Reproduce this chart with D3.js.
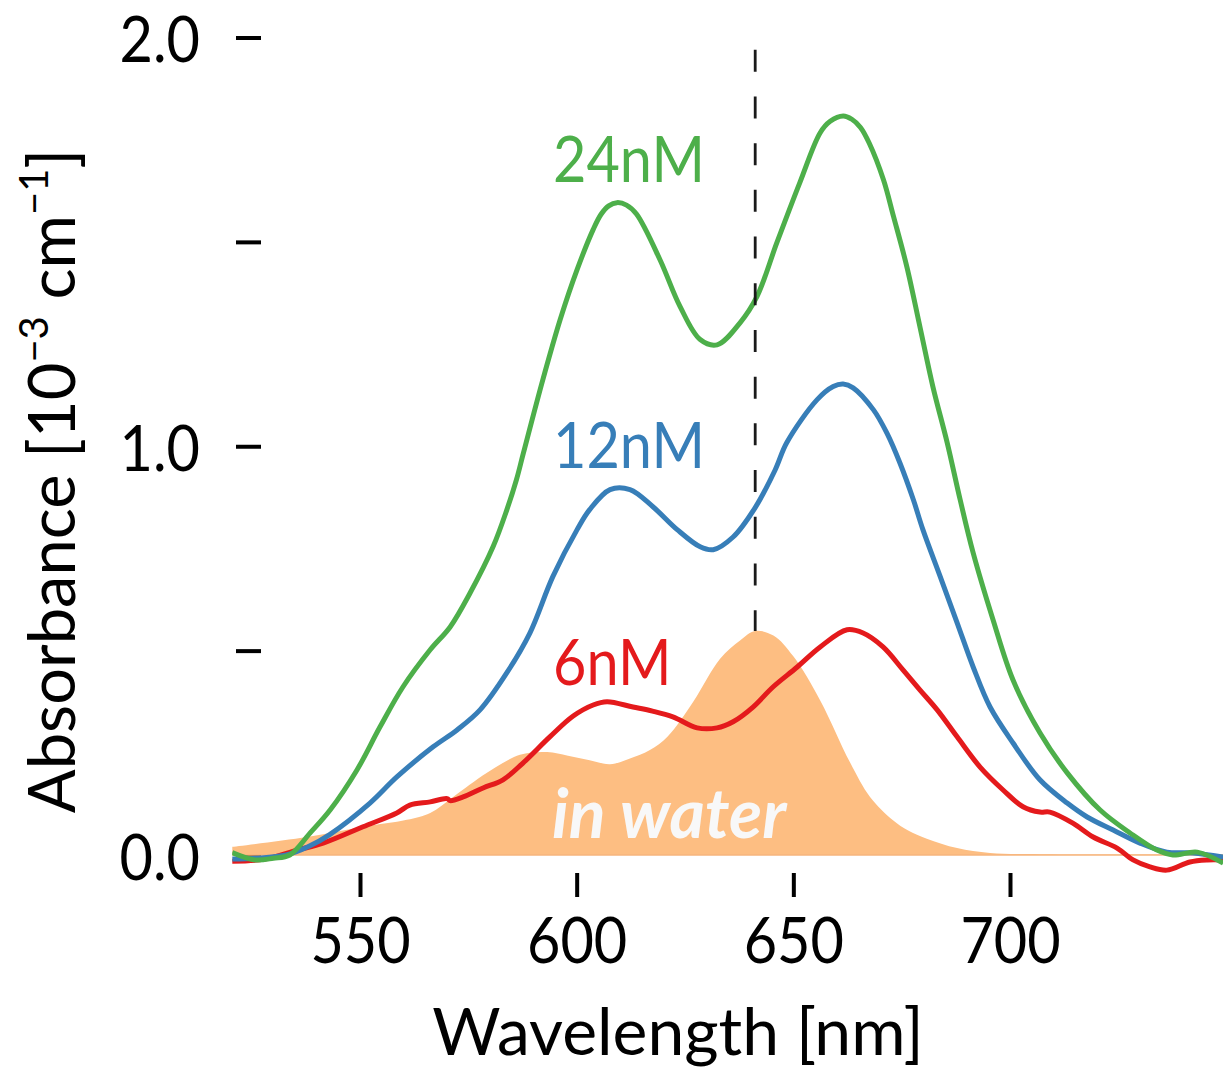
<!DOCTYPE html>
<html>
<head>
<meta charset="utf-8">
<script src="https://cdn.jsdelivr.net/npm/d3@7"></script>
<style>
  body { margin: 0; background: #fff; }
  svg { display: block; }
  text { font-family: Lato, "Open Sans", "DejaVu Sans", sans-serif; }
</style>
</head>
<body>
<svg id="chart" width="1223" height="1070"></svg>
<script>
// ---- Data -------------------------------------------------------------
const xTicks = [550, 600, 650, 700];
const xTickLabels = ["550", "600", "650", "700"];
const yTicks = [0, 0.5, 1.0, 1.5, 2.0];
const yTickLabels = ["0.0", "", "1.0", "", "2.0"];

// 24 nM spectrum (wavelength nm, absorbance 1e-3/cm)
const wl24 = [520.5, 525.8, 530, 533.8, 538.5, 543.1, 549.3, 554.6, 559.9, 566.2, 570.8, 575.4, 580.7, 583.9, 586.1, 587.7, 592.2, 596.2, 600.1, 603.8, 605.6, 607.4, 609.3, 611.5, 613.8, 619.2, 623.9, 628.5, 632.4, 637.7, 641.6, 646.2, 651.5, 656.2, 658.5, 661.5, 663.5, 665.5, 667.5, 670.8, 673.1, 676.2, 679.2, 682.2, 685.5, 688.5, 691.5, 696.1, 700.7, 706.9, 713.2, 720.8, 727.7, 733.9, 737.6, 743.2, 749.2];
const abs24 = [0.006, -0.012, -0.008, 0.000, 0.054, 0.110, 0.208, 0.313, 0.411, 0.502, 0.558, 0.641, 0.754, 0.845, 0.918, 0.983, 1.163, 1.310, 1.432, 1.530, 1.567, 1.588, 1.596, 1.590, 1.568, 1.457, 1.341, 1.261, 1.248, 1.302, 1.366, 1.498, 1.645, 1.767, 1.795, 1.808, 1.800, 1.780, 1.742, 1.652, 1.563, 1.439, 1.293, 1.146, 1.009, 0.869, 0.739, 0.575, 0.428, 0.299, 0.201, 0.110, 0.054, 0.012, 0.000, 0.007, -0.020];

// 12 nM spectrum
const wl12 = [520.5, 526, 533, 538, 543, 552.3, 558.5, 566.8, 572.4, 577.7, 583.9, 589.2, 594.5, 600.1, 603, 607.7, 612.3, 617.6, 623.2, 628.5, 631.5, 636.1, 641.2, 645.8, 648.5, 655.5, 659.2, 661.5, 663.8, 668.5, 671.6, 674.6, 677.7, 679.9, 683.9, 687.8, 691.5, 695.4, 700.7, 706.9, 713.2, 717.8, 723.8, 730.0, 736.2, 742.2, 749.2];
const abs12 = [-0.010, -0.008, 0.000, 0.020, 0.050, 0.127, 0.191, 0.264, 0.306, 0.355, 0.446, 0.543, 0.681, 0.796, 0.845, 0.894, 0.894, 0.852, 0.796, 0.754, 0.747, 0.778, 0.850, 0.942, 1.009, 1.114, 1.146, 1.152, 1.143, 1.089, 1.032, 0.959, 0.869, 0.796, 0.681, 0.568, 0.460, 0.362, 0.274, 0.184, 0.127, 0.093, 0.061, 0.029, 0.007, 0.005, -0.005];

// 6 nM spectrum
const wl6 = [520.5, 528, 535.5, 541.5, 550.7, 558.5, 561.5, 566.2, 570.1, 570.8, 573.8, 578.4, 583.0, 587.6, 593.8, 599.2, 603.8, 607.0, 613.0, 617.5, 622.2, 627.8, 632.4, 636.1, 640.7, 645.3, 650.9, 656.2, 662.4, 666.1, 670.7, 675.3, 679.2, 683.2, 687.8, 693.1, 698.4, 703.0, 706.9, 709.2, 714.5, 719.2, 724.7, 728.4, 732.3, 736.2, 741.5, 745.5, 749.2];
const abs6 = [-0.015, -0.010, 0.012, 0.029, 0.069, 0.103, 0.122, 0.130, 0.138, 0.133, 0.142, 0.164, 0.184, 0.225, 0.289, 0.340, 0.367, 0.375, 0.362, 0.352, 0.338, 0.311, 0.311, 0.326, 0.362, 0.411, 0.460, 0.509, 0.551, 0.543, 0.509, 0.453, 0.404, 0.355, 0.289, 0.215, 0.159, 0.118, 0.105, 0.105, 0.078, 0.044, 0.017, -0.012, -0.029, -0.037, -0.017, -0.012, -0.012];

// Reference spectrum in water (filled)
const wlWater = [520.5, 537.8, 550.7, 560.8, 566.2, 571.5, 579.3, 586.9, 593.2, 598, 603, 607.7, 612, 616.9, 621, 626.9, 633.1, 637.7, 641.2, 645.4, 650.0, 656.2, 663.1, 667.7, 673.0, 676.5, 680.8, 687.8, 695.4, 706.9, 749.2];
const absWater = [0.020, 0.044, 0.069, 0.086, 0.103, 0.142, 0.201, 0.245, 0.252, 0.243, 0.232, 0.222, 0.235, 0.257, 0.290, 0.375, 0.480, 0.525, 0.548, 0.537, 0.486, 0.378, 0.226, 0.142, 0.085, 0.060, 0.040, 0.017, 0.005, 0.002, 0.001];

const seriesNames = ["6nM", "12nM", "24nM"];
const seriesColors = ["#e41a1c", "#377eb8", "#4daf4a"];
const waterLabel = "in water";
const markerTop = 1.97;

// ---- Layout -----------------------------------------------------------
const FONT = 64;
const CONDENSE = 0.9;
const svg = d3.select("#chart");

const x = d3.scaleLinear().domain([550, 700]).range([360, 1010]);
const y = d3.scaleLinear().domain([0, 2]).range([855, 37.5]);
const plotLeft = x(520.5), plotRight = 1223;

svg.append("defs").append("clipPath").attr("id", "plotClip")
  .append("rect").attr("x", plotLeft).attr("y", 0)
  .attr("width", plotRight - plotLeft).attr("height", 1070);

const zip = (a, b) => a.map((v, i) => [v, b[i]]);
const water = zip(wlWater, absWater);
const series = [zip(wl6, abs6), zip(wl12, abs12), zip(wl24, abs24)];

// ---- Axes (ticks only, no spines) -------------------------------------
const yAxis = d3.axisLeft(y).tickValues(yTicks).tickSize(25).tickPadding(36)
  .tickFormat((d, i) => yTickLabels[i]);
const gy = svg.append("g").attr("transform", "translate(261,0)").call(yAxis);
gy.select(".domain").remove();
gy.selectAll(".tick line").attr("stroke", "#000").attr("stroke-width", 4);
gy.selectAll(".tick text")
  .attr("font-size", FONT).attr("fill", "#000")
  .attr("font-family", "Lato, 'Open Sans', sans-serif")
  .attr("x", null).attr("dy", "0.38em")
  .attr("transform", `translate(-61,0) scale(${CONDENSE},1)`);

const xAxis = d3.axisBottom(x).tickValues(xTicks).tickSize(24).tickPadding(21)
  .tickFormat((d, i) => xTickLabels[i]);
const gx = svg.append("g").attr("transform", "translate(0,873)").call(xAxis);
gx.select(".domain").remove();
gx.selectAll(".tick line").attr("stroke", "#000").attr("stroke-width", 4);
gx.selectAll(".tick text")
  .attr("font-size", FONT).attr("fill", "#000")
  .attr("font-family", "Lato, 'Open Sans', sans-serif")
  .attr("transform", `scale(${CONDENSE},1)`);

// ---- Marks ------------------------------------------------------------
const plot = svg.append("g").attr("clip-path", "url(#plotClip)");

const area = d3.area().x(d => x(d[0])).y0(y(0)).y1(d => y(d[1]))
  .curve(d3.curveCatmullRom.alpha(0.5));
plot.append("path").datum(water).attr("d", area)
  .attr("fill", "#fdbe82").attr("stroke", "none");
plot.append("line")
  .attr("x1", plotLeft).attr("x2", plotRight)
  .attr("y1", y(0)).attr("y2", y(0))
  .attr("stroke", "#f6b47c").attr("stroke-width", 1.5);

const line = d3.line().x(d => x(d[0])).y(d => y(d[1]))
  .curve(d3.curveCatmullRom.alpha(0.5));
series.forEach((s, i) => {
  plot.append("path").datum(s).attr("d", line)
    .attr("fill", "none").attr("stroke", seriesColors[i])
    .attr("stroke-width", 5).attr("stroke-linejoin", "round");
});

// vertical dashed marker at the water absorption maximum
const peak = water.reduce((a, b) => (b[1] > a[1] ? b : a));
svg.append("line")
  .attr("x1", x(peak[0])).attr("x2", x(peak[0]))
  .attr("y1", y(markerTop)).attr("y2", y(peak[1]))
  .attr("stroke", "#1a1a1a").attr("stroke-width", 2.8)
  .attr("stroke-dasharray", "22,24.7");

// ---- Labels -----------------------------------------------------------
const labelPos = [[553, 685], [553, 468], [553, 182]];
seriesNames.forEach((name, i) => {
  svg.append("text")
    .attr("transform", `translate(${labelPos[i][0]},${labelPos[i][1]}) scale(${CONDENSE},1)`)
    .attr("font-size", FONT).attr("fill", seriesColors[i])
    .text(name);
});

svg.append("text")
  .attr("transform", "translate(552,838)")
  .attr("font-size", 68).attr("font-style", "italic").attr("font-weight", 700)
  .attr("fill", "#f8f8f8")
  .text(waterLabel);

// axis titles
svg.append("text")
  .attr("transform", "translate(678,1055)")
  .attr("text-anchor", "middle").attr("font-size", 66).attr("fill", "#000")
  .text("Wavelength [nm]");

const yt = svg.append("text")
  .attr("transform", "translate(75,481) rotate(-90)")
  .attr("text-anchor", "middle").attr("font-size", 65).attr("fill", "#000");
yt.append("tspan").text("Absorbance [10");
yt.append("tspan").attr("font-size", 40).attr("dy", -27).text("\u22123");
yt.append("tspan").attr("dy", 27).text(" cm");
yt.append("tspan").attr("font-size", 40).attr("dy", -27).text("\u22121");
yt.append("tspan").attr("dy", 27).text("]");
</script>
</body>
</html>
